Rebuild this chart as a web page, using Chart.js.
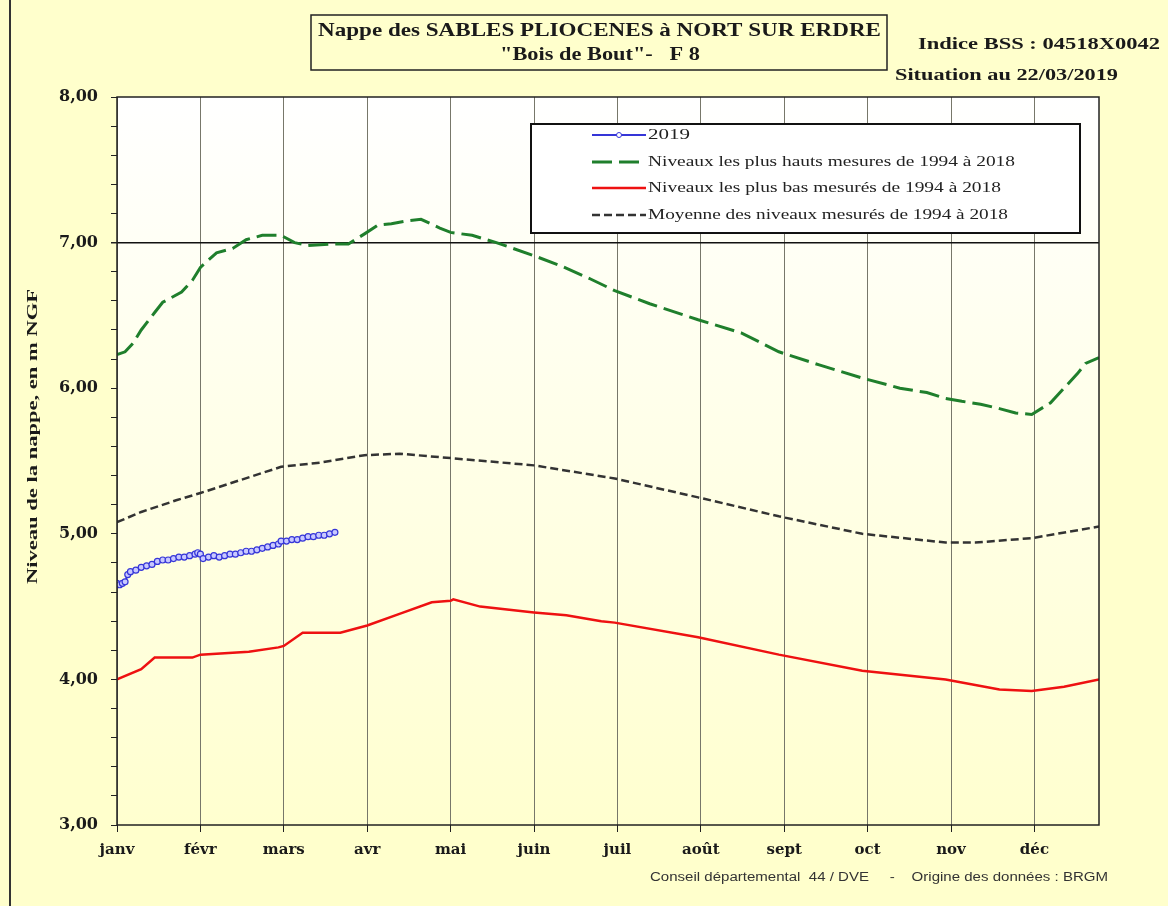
<!DOCTYPE html>
<html>
<head>
<meta charset="utf-8">
<script src="https://cdn.jsdelivr.net/npm/chart.js@4.4.1/dist/chart.umd.min.js"></script>
<style>
  html, body { margin: 0; padding: 0; background: #ffffcc; }
  #wrap { width: 1168px; height: 906px; }
</style>
</head>
<body>
<div id="wrap"><canvas id="c" width="1168" height="906"></canvas></div>
<script>
// x axis = day of year, ticks every 31 days (Excel style)
var monthLabels = ['janv', 'févr', 'mars', 'avr', 'mai', 'juin', 'juil', 'août', 'sept', 'oct', 'nov', 'déc'];
var monthTickDays = [0, 31, 62, 93, 124, 155, 186, 217, 248, 279, 310, 341];

var days2019 = [0, 1, 2, 3, 4, 5, 7, 9, 11, 13, 15, 17, 19, 21, 23, 25, 27, 29, 30, 31, 32, 34, 36, 38, 40, 42, 44, 46, 48, 50, 52, 54, 56, 58, 60, 61, 63, 65, 67, 69, 71, 73, 75, 77, 79, 81];
var vals2019 = [4.66, 4.65, 4.66, 4.67, 4.72, 4.74, 4.75, 4.77, 4.78, 4.79, 4.81, 4.82, 4.82, 4.83, 4.84, 4.84, 4.85, 4.86, 4.87, 4.86, 4.83, 4.84, 4.85, 4.84, 4.85, 4.86, 4.86, 4.87, 4.88, 4.88, 4.89, 4.90, 4.91, 4.92, 4.93, 4.95, 4.95, 4.96, 4.96, 4.97, 4.98, 4.98, 4.99, 4.99, 5.00, 5.01];

var daysMax = [0, 3, 6, 9, 14, 17, 24, 28, 31, 37, 43, 48, 54, 61, 66, 71, 79, 86, 92, 97, 102, 108, 113, 120, 124, 132, 141, 155, 165, 176, 185, 198, 216, 232, 246, 261, 277, 291, 301, 308, 314, 321, 328, 334, 340, 347, 353, 357, 360, 365];
var valsMax = [6.23, 6.25, 6.31, 6.40, 6.52, 6.59, 6.66, 6.74, 6.83, 6.93, 6.96, 7.02, 7.05, 7.05, 7.00, 6.98, 6.99, 6.99, 7.06, 7.12, 7.13, 7.15, 7.16, 7.10, 7.07, 7.05, 7.00, 6.91, 6.84, 6.75, 6.67, 6.58, 6.47, 6.38, 6.25, 6.16, 6.07, 6.00, 5.97, 5.93, 5.91, 5.89, 5.86, 5.83, 5.82, 5.90, 6.02, 6.10, 6.17, 6.21];

var daysMin = [0, 9, 14, 28, 31, 49, 60, 62, 69, 83, 93, 105, 117, 124, 125, 135, 155, 167, 180, 185, 216, 246, 277, 308, 328, 340, 352, 365];
var valsMin = [4.00, 4.07, 4.15, 4.15, 4.17, 4.19, 4.22, 4.23, 4.32, 4.32, 4.37, 4.45, 4.53, 4.54, 4.55, 4.50, 4.46, 4.44, 4.40, 4.39, 4.29, 4.17, 4.06, 4.00, 3.93, 3.92, 3.95, 4.00];

var daysMean = [0, 9, 22, 31, 46, 61, 76, 92, 105, 124, 155, 185, 216, 246, 277, 308, 319, 340, 365];
var valsMean = [5.08, 5.15, 5.23, 5.28, 5.37, 5.46, 5.49, 5.54, 5.55, 5.52, 5.47, 5.38, 5.25, 5.12, 5.00, 4.94, 4.94, 4.97, 5.05];

var legendLabels = ['2019', 'Niveaux les plus hauts mesures de 1994 à 2018', 'Niveaux les plus bas mesurés de 1994 à 2018', 'Moyenne des niveaux mesurés de 1994 à 2018'];

function pts(xs, ys) {
  return xs.map(function (d, i) { return { x: d, y: ys[i] }; });
}

var serif = '"Liberation Serif", "DejaVu Serif", serif';
var wideSerif = '"DejaVu Serif", serif';

// the original text is stretched sideways, so squeeze/stretch it to a width
function fitText(ctx, text, x, y, width) {
  var w = ctx.measureText(text).width;
  ctx.save();
  ctx.translate(x, y);
  ctx.scale(width / w, 1);
  ctx.textAlign = 'left';
  ctx.fillText(text, 0, 0);
  ctx.restore();
}

var decor = {
  id: 'decor',
  beforeDraw: function (chart) {
    var ctx = chart.ctx, a = chart.chartArea;
    ctx.save();
    ctx.fillStyle = '#ffffcc';
    ctx.fillRect(0, 0, chart.width, chart.height);
    var g = ctx.createLinearGradient(0, a.top, 0, a.bottom);
    g.addColorStop(0, '#ffffff');
    g.addColorStop(1, '#ffffcf');
    ctx.fillStyle = g;
    ctx.fillRect(a.left, a.top, a.right - a.left, a.bottom - a.top);
    // left page edge
    ctx.strokeStyle = '#333';
    ctx.lineWidth = 2;
    ctx.beginPath();
    ctx.moveTo(10, 0);
    ctx.lineTo(10, chart.height);
    ctx.stroke();
    ctx.restore();
  },
  afterDraw: function (chart) {
    var ctx = chart.ctx, a = chart.chartArea;
    ctx.save();
    // plot frame
    ctx.strokeStyle = '#222';
    ctx.lineWidth = 1.5;
    ctx.strokeRect(a.left, a.top, a.right - a.left, a.bottom - a.top);

    // title box
    ctx.fillStyle = '#ffffcc';
    ctx.fillRect(311, 15, 576, 55);
    ctx.strokeStyle = '#222';
    ctx.lineWidth = 1.5;
    ctx.strokeRect(311, 15, 576, 55);
    ctx.fillStyle = '#1a1a1a';
    ctx.textBaseline = 'middle';
    ctx.font = 'bold 19px ' + serif;
    fitText(ctx, 'Nappe des SABLES PLIOCENES à NORT SUR ERDRE', 318, 31, 563);
    fitText(ctx, '"Bois de Bout"-   F 8', 500, 55, 200);

    ctx.font = 'bold 17px ' + serif;
    fitText(ctx, 'Indice BSS : 04518X0042', 918, 45, 242);
    fitText(ctx, 'Situation au 22/03/2019', 895, 76, 223);

    // y axis title, rotated
    ctx.save();
    ctx.translate(33, 437);
    ctx.rotate(-Math.PI / 2);
    ctx.font = 'bold 15px ' + serif;
    fitText(ctx, 'Niveau de la nappe, en m NGF', -147, 0, 295);
    ctx.restore();

    // legend
    var lx = 531, ly = 124, lw = 549, lh = 109;
    ctx.fillStyle = '#ffffff';
    ctx.fillRect(lx, ly, lw, lh);
    ctx.strokeStyle = '#111';
    ctx.lineWidth = 2;
    ctx.strokeRect(lx, ly, lw, lh);
    var rows = [135, 162, 188, 215];
    var textW = [42, 367, 353, 360];
    chart.data.datasets.forEach(function (ds, i) {
      var y = rows[i];
      ctx.strokeStyle = ds.borderColor;
      ctx.lineWidth = ds.borderWidth;
      ctx.setLineDash(ds.borderDash || []);
      ctx.beginPath();
      ctx.moveTo(592, y);
      ctx.lineTo(646, y);
      ctx.stroke();
      ctx.setLineDash([]);
      if (ds.pointRadius) {
        ctx.fillStyle = '#fff';
        ctx.lineWidth = 1;
        ctx.beginPath();
        ctx.arc(619, y, 2.5, 0, Math.PI * 2);
        ctx.fill();
        ctx.stroke();
      }
      ctx.fillStyle = '#222';
      ctx.font = '15px ' + serif;
      ctx.textBaseline = 'middle';
      fitText(ctx, legendLabels[i], 648, y, textW[i]);
    });

    // source
    ctx.font = '12px "Liberation Sans", Arial, sans-serif';
    ctx.fillStyle = '#333';
    fitText(ctx, 'Conseil départemental  44 / DVE     -    Origine des données : BRGM', 650, 878, 458);
    ctx.restore();
  }
};

new Chart(document.getElementById('c'), {
  type: 'line',
  data: {
    datasets: [
      {
        data: pts(days2019, vals2019),
        borderColor: '#3535d8',
        backgroundColor: '#c8c8ff',
        borderWidth: 2,
        pointRadius: 3,
        pointBorderWidth: 1.2,
        pointHoverRadius: 3
      },
      {
        data: pts(daysMax, valsMax),
        borderColor: '#1f7f2c',
        borderWidth: 3,
        borderDash: [20, 7],
        pointRadius: 0
      },
      {
        data: pts(daysMin, valsMin),
        borderColor: '#ee1111',
        borderWidth: 2.5,
        pointRadius: 0
      },
      {
        data: pts(daysMean, valsMean),
        borderColor: '#333333',
        borderWidth: 2.5,
        borderDash: [8, 4],
        pointRadius: 0
      }
    ]
  },
  options: {
    responsive: false,
    animation: false,
    events: [],
    layout: { padding: { left: 0, right: 69, top: 97, bottom: 41 } },
    plugins: { legend: { display: false }, tooltip: { enabled: false } },
    scales: {
      x: {
        type: 'linear',
        min: 0,
        max: 365,
        afterBuildTicks: function (scale) {
          scale.ticks = monthTickDays.map(function (d) { return { value: d }; });
        },
        afterFit: function (scale) { scale.height = 40; },
        ticks: {
          autoSkip: false,
          maxRotation: 0,
          padding: 9,
          color: '#1a1a1a',
          font: { family: wideSerif, size: 15, weight: 'bold' },
          callback: function (v) {
            var i = monthTickDays.indexOf(v);
            return i >= 0 ? monthLabels[i] : '';
          }
        },
        grid: { color: '#77776a', lineWidth: 1, tickLength: 7, tickColor: '#222' },
        border: { display: false }
      },
      y: {
        min: 3,
        max: 8,
        afterFit: function (scale) { scale.width = 117; },
        ticks: {
          stepSize: 0.2,
          autoSkip: false,
          padding: 13,
          color: '#1a1a1a',
          font: { family: wideSerif, size: 16, weight: 'bold' },
          callback: function (v) {
            if (Math.abs(v - Math.round(v)) < 1e-6) {
              return Math.round(v).toFixed(2).replace('.', ',');
            }
            return '';
          }
        },
        grid: {
          tickLength: 6,
          tickColor: '#222',
          lineWidth: function (c) { return Math.abs(c.tick.value - 7) < 1e-6 ? 1.5 : 1; },
          color: function (c) { return Math.abs(c.tick.value - 7) < 1e-6 ? '#111' : 'rgba(0,0,0,0)'; }
        },
        border: { display: false }
      }
    }
  },
  plugins: [decor]
});
</script>
</body>
</html>
